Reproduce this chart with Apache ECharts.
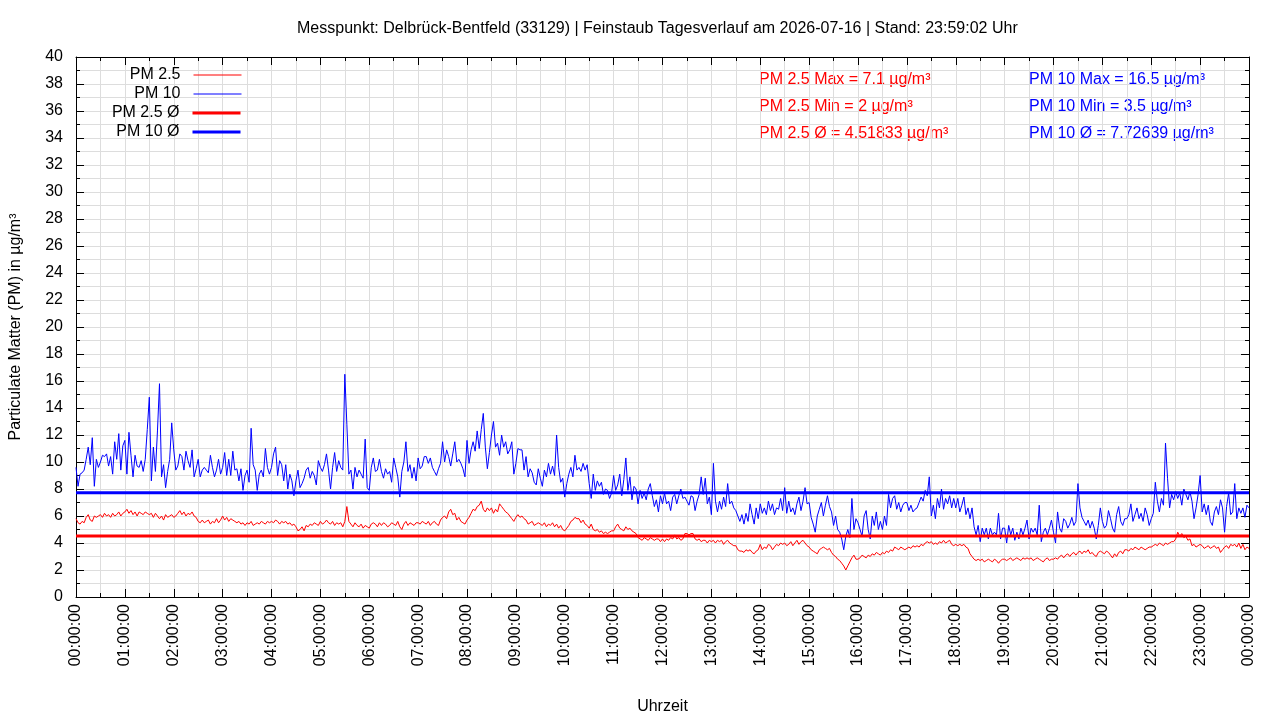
<!DOCTYPE html>
<html>
<head>
<meta charset="utf-8">
<script src="https://cdn.jsdelivr.net/npm/echarts@6/dist/echarts.min.js"></script>
<style>
html, body { margin: 0; padding: 0; background: #fff; }
#chart { width: 1280px; height: 720px; }
</style>
</head>
<body>
<div id="chart"></div>
<script>
// Messwerte alle 2,5 Minuten, 00:00 bis 24:00 (eine Zeile = 30 Minuten)
var STEP = 2.5;

var pm25 = [
  5.8, 5.5, 5.4, 5.6, 5.5, 5.9, 6.1, 5.7, 5.6, 6.0, 5.9, 6.0,   // 00:00
  6.1, 5.9, 6.2, 6.0, 6.1, 5.9, 6.2, 6.0, 6.1, 6.3, 6.0, 6.2,
  6.3, 6.5, 6.2, 6.4, 6.1, 6.3, 6.0, 6.3, 6.2, 6.1, 6.3, 6.2,   // 01:00
  6.1, 6.2, 5.9, 6.2, 6.0, 5.8, 6.0, 5.7, 6.1, 5.9, 6.0, 6.1,
  5.9, 6.0, 6.2, 6.4, 6.1, 6.3, 6.0, 6.2, 6.1, 6.3, 6.0, 5.9,   // 02:00
  5.6, 5.5, 5.7, 5.5, 5.6, 5.7, 5.4, 5.6, 5.5, 5.8, 5.5, 5.7,
  6.0, 5.7, 5.9, 5.6, 5.8, 5.7, 5.6, 5.5, 5.6, 5.4, 5.5, 5.3,   // 03:00
  5.5, 5.4, 5.6, 5.3, 5.4, 5.5, 5.4, 5.6, 5.5, 5.4, 5.6, 5.5,
  5.6, 5.5, 5.7, 5.6, 5.4, 5.6, 5.5, 5.6, 5.4, 5.5, 5.3, 5.4,   // 04:00
  5.2, 4.9, 5.0, 5.2, 4.9, 5.3, 5.2, 5.4, 5.3, 5.5, 5.4, 5.3,
  5.6, 5.4, 5.5, 5.7, 5.5, 5.4, 5.6, 5.3, 5.5, 5.4, 5.5, 5.2,   // 05:00
  5.6, 6.7, 5.6, 5.4, 5.2, 5.5, 5.3, 5.2, 5.4, 5.1, 5.3, 5.2,
  5.1, 5.4, 5.5, 5.4, 5.2, 5.5, 5.3, 5.5, 5.4, 5.2, 5.3, 5.5,   // 06:00
  5.4, 5.3, 5.6, 5.2, 5.0, 5.4, 5.6, 5.3, 5.5, 5.4, 5.3, 5.5,
  5.5, 5.4, 5.6, 5.5, 5.4, 5.6, 5.3, 5.5, 5.6, 5.4, 5.3, 5.7,   // 07:00
  5.9, 6.0, 5.8, 6.3, 6.5, 6.1, 6.2, 5.7, 5.9, 5.6, 5.5, 5.4,
  5.7, 5.9, 6.2, 6.5, 6.4, 6.7, 6.8, 7.1, 6.5, 6.3, 6.6, 6.4,   // 08:00
  6.6, 6.2, 6.5, 6.3, 6.9, 6.7, 6.5, 6.3, 6.2, 6.0, 5.8, 5.6,
  5.9, 6.1, 5.9, 6.0, 5.8, 5.7, 5.4, 5.5, 5.6, 5.3, 5.4, 5.5,   // 09:00
  5.4, 5.3, 5.5, 5.2, 5.4, 5.3, 5.5, 5.2, 5.4, 5.1, 5.3, 5.0,
  4.9, 5.1, 5.3, 5.6, 5.7, 5.9, 5.8, 5.8, 5.5, 5.7, 5.4, 5.3,   // 10:00
  5.1, 5.4, 5.0, 4.9, 5.0, 4.8, 4.9, 4.7, 4.8, 4.7, 4.8, 4.9,
  4.9, 5.2, 5.4, 5.1, 5.0, 4.9, 5.2, 5.0, 5.1, 4.9, 4.8, 4.7,   // 11:00
  4.4, 4.3, 4.2, 4.4, 4.3, 4.2, 4.4, 4.3, 4.2, 4.3, 4.3, 4.1,
  4.3, 4.1, 4.3, 4.2, 4.4, 4.3, 4.6, 4.3, 4.4, 4.2, 4.3, 4.7,   // 12:00
  4.7, 4.6, 4.7, 4.7, 4.3, 4.2, 4.3, 4.1, 4.2, 4.2, 4.0, 4.2,
  4.1, 4.2, 4.0, 4.2, 4.1, 4.2, 3.9, 4.1, 4.2, 4.0, 3.9, 3.8,   // 13:00
  3.8, 3.5, 3.4, 3.4, 3.3, 3.5, 3.4, 3.5, 3.3, 3.2, 3.4, 3.5,
  3.9, 3.5, 3.7, 3.6, 3.9, 3.8, 3.5, 3.7, 3.9, 3.8, 4.0, 3.9,   // 14:00
  4.0, 3.8, 3.9, 4.1, 3.8, 4.0, 4.2, 3.9, 4.1, 4.2, 4.0, 3.8,
  3.7, 3.5, 3.4, 3.3, 3.2, 3.5, 3.6, 3.7, 3.6, 3.5, 3.6, 3.3,   // 15:00
  3.1, 3.0, 2.8, 2.7, 2.5, 2.3, 2.0, 2.3, 2.6, 2.9, 3.1, 2.8,
  2.8, 2.9, 3.1, 3.0, 2.9, 3.1, 3.0, 3.2, 3.1, 3.3, 3.2, 3.1,   // 16:00
  3.3, 3.2, 3.4, 3.3, 3.5, 3.4, 3.7, 3.6, 3.5, 3.7, 3.6, 3.5,
  3.6, 3.7, 3.6, 3.8, 3.7, 3.8, 3.7, 3.9, 3.8, 4.0, 4.1, 4.0,   // 17:00
  4.1, 3.9, 4.0, 3.9, 4.1, 4.0, 4.2, 4.0, 4.1, 4.2, 3.9, 3.8,
  3.9, 3.8, 3.9, 3.8, 3.9, 3.7, 3.6, 3.2, 3.0, 2.8, 2.7, 2.8,   // 18:00
  2.7, 2.8, 2.6, 2.7, 2.8, 2.7, 2.6, 2.8, 2.7, 2.5, 2.7, 2.8,
  2.8, 2.7, 2.8, 2.9, 2.7, 2.8, 2.9, 2.8, 2.7, 2.9, 2.8, 2.9,   // 19:00
  2.8, 2.9, 2.7, 2.8, 2.9, 2.8, 2.7, 2.6, 2.8, 2.9, 2.7, 2.8,
  2.8, 2.9, 2.8, 3.0, 3.1, 2.9, 3.1, 3.2, 3.0, 3.2, 3.3, 3.1,   // 20:00
  3.3, 3.4, 3.2, 3.4, 3.3, 3.5, 3.2, 3.3, 3.1, 3.0, 3.3, 3.4,
  3.3, 3.2, 3.4, 3.3, 3.1, 2.9, 3.2, 3.0, 3.3, 3.4, 3.2, 3.5,   // 21:00
  3.5, 3.4, 3.6, 3.5, 3.7, 3.6, 3.5, 3.7, 3.6, 3.5, 3.6, 3.7,
  3.7, 3.8, 3.9, 3.8, 4.0, 3.9, 3.8, 4.0, 3.9, 4.0, 4.1, 4.1,   // 22:00
  4.3, 4.8, 4.5, 4.7, 4.4, 4.5, 4.2, 4.3, 3.8, 3.9, 3.7, 3.8,
  3.9, 3.8, 3.6, 3.7, 3.8, 3.6, 3.7, 3.8, 3.6, 3.7, 3.3, 3.5,   // 23:00
  3.7, 3.8, 3.6, 3.9, 3.8, 3.9, 3.7, 4.0, 3.6, 3.9, 3.5, 3.7,
  3.6
];

var pm10 = [
  9.6, 8.2, 9.1, 9.2, 9.4, 10.2, 11.1, 9.8, 11.8, 8.2, 10.2, 9.6,      // 00:00
  10.0, 10.5, 10.4, 10.6, 9.7, 10.4, 9.1, 11.5, 10.2, 12.1, 9.4, 11.2,
  11.6, 9.1, 12.2, 10.5, 8.9, 10.5, 9.7, 9.6, 10.1, 9.3, 10.2, 12.4,   // 01:00
  14.8, 8.6, 11.1, 9.3, 12.3, 15.8, 8.9, 9.8, 8.1, 9.3, 10.2, 12.9,
  10.9, 9.4, 9.7, 10.6, 10.4, 9.4, 10.8, 10.1, 9.6, 10.9, 8.9, 9.5,    // 02:00
  10.2, 8.9, 9.4, 9.6, 9.4, 9.2, 10.5, 9.6, 8.9, 9.4, 10.2, 9.1,
  9.6, 10.7, 9.0, 10.2, 9.0, 10.8, 9.4, 9.5, 8.6, 9.5, 7.9, 9.0,      // 03:00
  9.4, 8.5, 12.5, 9.8, 9.4, 7.9, 9.1, 9.4, 8.9, 11.0, 9.6, 9.1,
  9.6, 10.6, 11.1, 9.0, 10.1, 9.8, 8.6, 9.8, 8.0, 9.1, 8.6, 7.5,      // 04:00
  8.6, 9.4, 8.1, 8.4, 8.8, 9.4, 9.6, 8.8, 9.3, 9.0, 8.3, 10.1,
  9.6, 9.3, 9.8, 10.6, 9.4, 8.0, 9.6, 10.7, 9.3, 10.1, 9.6, 9.4,      // 05:00
  16.5, 12.8, 9.1, 9.4, 8.0, 9.6, 8.9, 9.4, 9.1, 8.8, 11.7, 8.1,
  7.9, 9.6, 10.3, 9.3, 9.4, 10.2, 9.3, 8.8, 9.5, 9.1, 9.3, 8.5,       // 06:00
  10.3, 9.6, 8.9, 7.4, 9.3, 10.0, 11.5, 9.3, 9.8, 8.8, 9.6, 8.6,
  10.3, 9.5, 9.7, 10.4, 10.4, 9.9, 10.3, 9.6, 9.3, 9.0, 9.5, 9.9,     // 07:00
  11.5, 10.0, 10.9, 10.4, 9.7, 10.6, 11.5, 10.0, 10.2, 9.9, 9.5, 8.9,
  11.6, 9.9, 10.9, 11.5, 10.8, 12.3, 11.0, 12.4, 13.6, 11.1, 9.5, 10.7, // 08:00
  12.0, 13.0, 11.1, 11.4, 10.5, 12.0, 11.1, 11.5, 10.6, 10.9, 11.5, 9.1,
  9.9, 11.0, 10.9, 10.9, 9.4, 10.4, 8.9, 9.5, 9.2, 8.5, 8.3, 9.5,     // 09:00
  8.8, 8.2, 9.4, 8.9, 9.9, 9.1, 9.7, 9.0, 12.0, 9.6, 8.5, 8.8,
  7.4, 8.4, 9.1, 9.6, 8.9, 10.5, 9.4, 9.6, 9.3, 9.9, 9.4, 9.8,        // 10:00
  8.4, 7.3, 9.1, 7.9, 8.6, 8.2, 8.5, 7.6, 8.0, 7.9, 7.3, 7.7,
  9.0, 7.9, 8.3, 9.1, 7.5, 8.7, 10.3, 7.9, 8.9, 7.2, 8.2, 8.0,        // 11:00
  6.9, 7.9, 7.3, 7.7, 7.2, 8.0, 8.4, 7.5, 6.7, 7.2, 6.3, 7.5,
  6.9, 7.7, 6.9, 7.1, 6.4, 7.4, 7.6, 6.9, 7.5, 8.0, 7.3, 7.4,         // 12:00
  7.1, 6.8, 7.5, 7.4, 6.4, 7.1, 7.6, 8.9, 7.6, 8.8, 6.9, 7.4,
  6.1, 9.9, 7.1, 6.3, 7.1, 6.5, 7.4, 6.7, 8.4, 6.9, 7.1, 6.6,         // 13:00
  6.4, 6.0, 5.6, 6.1, 5.4, 6.2, 5.6, 6.9, 6.1, 5.4, 6.6, 5.8,
  6.9, 6.2, 6.6, 6.1, 7.1, 6.4, 6.9, 6.1, 6.6, 6.5, 7.3, 6.4,         // 14:00
  8.1, 6.2, 7.1, 6.3, 6.6, 6.1, 6.9, 7.4, 6.4, 7.1, 8.1, 6.9,
  7.0, 5.9, 5.4, 4.8, 6.0, 6.5, 7.0, 6.0, 6.8, 7.5, 6.7, 6.3,         // 15:00
  5.3, 6.0, 5.0, 4.8, 4.3, 3.5, 4.5, 5.0, 4.4, 7.3, 5.0, 5.8,
  5.5, 5.0, 4.5, 6.0, 6.4, 5.0, 4.3, 6.0, 5.3, 6.3, 5.0, 5.6,         // 16:00
  5.0, 6.0, 5.3, 7.6, 6.6, 7.3, 7.5, 6.5, 7.0, 6.3, 6.8, 7.0,
  7.0, 6.4, 6.8, 6.3, 6.5, 6.6, 7.0, 7.4, 7.1, 7.9, 7.5, 8.9,         // 17:00
  6.0, 6.8, 5.8, 7.3, 6.6, 8.0, 6.5, 7.3, 6.9, 7.5, 6.6, 7.3,
  6.6, 7.3, 6.3, 6.8, 7.4, 6.1, 6.6, 5.8, 6.6, 5.2, 4.6, 5.3,         // 18:00
  4.1, 5.1, 4.6, 5.1, 4.3, 5.1, 4.6, 4.8, 4.6, 6.2, 4.3, 5.1,
  5.1, 4.0, 5.3, 4.6, 5.1, 4.2, 4.8, 4.3, 5.1, 4.6, 5.1, 5.7,         // 19:00
  4.3, 5.1, 4.8, 5.1, 4.6, 6.8, 4.1, 4.8, 5.1, 4.6, 5.1, 5.7,
  4.8, 4.0, 6.3, 5.1, 4.8, 5.8, 5.6, 5.1, 5.4, 5.9, 5.3, 5.6,         // 20:00
  8.4, 6.6, 5.9, 5.6, 5.3, 5.7, 5.1, 5.6, 5.1, 4.3, 5.3, 6.6,
  5.6, 5.1, 5.3, 6.4, 5.8, 5.1, 4.8, 6.1, 6.7, 5.6, 5.3, 5.8,         // 21:00
  5.8, 6.1, 6.9, 5.6, 6.1, 6.6, 5.8, 6.2, 5.6, 6.6, 6.1, 5.3,
  5.8, 6.2, 8.5, 7.1, 6.3, 7.3, 6.8, 11.4, 8.8, 6.6, 7.6, 7.2,        // 22:00
  7.8, 7.3, 7.7, 6.8, 8.0, 7.6, 7.2, 7.8, 7.1, 5.8, 6.6, 7.6,
  9.0, 6.3, 6.9, 6.1, 6.8, 5.6, 5.3, 6.3, 6.7, 6.1, 7.2, 6.6,         // 23:00
  4.8, 6.7, 7.7, 6.1, 6.3, 8.4, 5.8, 6.6, 6.2, 6.6, 5.9, 6.8,
  6.6
];

var pm25Max = 7.1, pm25Min = 2, pm25Avg = 4.51833;
var pm10Max = 16.5, pm10Min = 3.5, pm10Avg = 7.72639;

var FONT = '"Liberation Sans", Arial, sans-serif';

function toPairs(values) {
  var out = [];
  for (var i = 0; i < values.length; i++) out.push([i * STEP, values[i]]);
  return out;
}

function hourLabel(v) {
  var h = Math.round(v / 60) % 24;
  return (h < 10 ? '0' : '') + h + ':00:00';
}

// gnuplot-Legende: Text rechtsbündig, Linienmuster rechts daneben
function keyEntry(name, top, width) {
  return {
    data: [name],
    right: 1280 - 242,
    top: top,
    orient: 'vertical',
    align: 'right',
    itemWidth: 48,
    itemHeight: 13,
    padding: 0,
    selectedMode: false,
    itemStyle: { opacity: 0, borderWidth: 0 },
    lineStyle: { width: width },
    textStyle: { fontSize: 16, color: '#000', fontFamily: FONT, padding: [0, 8, 0, 0] }
  };
}

function statText(x, y, text, color) {
  return { type: 'text', x: x, y: y, style: { text: text, fill: color, font: '16px ' + FONT, verticalAlign: 'middle' } };
}

var gridLine = { color: '#dddddd', width: 1 };
var tickStyle = { color: '#000', width: 1 };

var myChart = echarts.init(document.getElementById('chart'));

var option = {
  animation: false,
  backgroundColor: '#fff',
  title: {
    text: 'Messpunkt: Delbrück-Bentfeld (33129) | Feinstaub Tagesverlauf am 2026-07-16 | Stand: 23:59:02 Uhr',
    left: 297,
    top: 21,
    padding: 0,
    textStyle: { fontSize: 16, fontWeight: 'normal', color: '#000', fontFamily: FONT }
  },
  legend: [
    keyEntry('PM 2.5', 67, 1),
    keyEntry('PM 10', 86, 1),
    keyEntry('PM 2.5 Ø', 105, 3),
    keyEntry('PM 10 Ø', 124, 3)
  ],
  grid: { left: 75, right: 31, top: 57, bottom: 123, containLabel: false },
  xAxis: [{
    type: 'value',
    min: 0,
    max: 1440,
    interval: 60,
    name: 'Uhrzeit',
    nameLocation: 'middle',
    nameGap: 102,
    nameTextStyle: { fontSize: 16, color: '#000', fontFamily: FONT },
    axisLine: { show: true, onZero: false, lineStyle: tickStyle },
    axisTick: { inside: true, length: 8, lineStyle: tickStyle },
    minorTick: { show: true, splitNumber: 2, length: 4, lineStyle: tickStyle },
    splitLine: { show: true, lineStyle: gridLine },
    minorSplitLine: { show: true, lineStyle: gridLine },
    axisLabel: {
      rotate: 90, margin: 7, fontSize: 16, color: '#000', fontFamily: FONT,
      showMinLabel: true, showMaxLabel: true,
      formatter: hourLabel
    }
  }, {
    type: 'value',
    position: 'top',
    min: 0,
    max: 1440,
    interval: 60,
    axisLine: { show: true, onZero: false, lineStyle: tickStyle },
    axisTick: { inside: true, length: 8, lineStyle: tickStyle },
    minorTick: { show: true, splitNumber: 2, length: 4, lineStyle: tickStyle },
    splitLine: { show: false },
    axisLabel: { show: false }
  }],
  yAxis: [{
    type: 'value',
    min: 0,
    max: 40,
    interval: 2,
    name: 'Particulate Matter (PM) in µg/m³',
    nameLocation: 'middle',
    nameRotate: 90,
    nameGap: 52,
    nameTextStyle: { fontSize: 16, color: '#000', fontFamily: FONT },
    axisLine: { show: true, onZero: false, lineStyle: tickStyle },
    axisTick: { inside: true, length: 8, lineStyle: tickStyle },
    minorTick: { show: true, splitNumber: 2, length: 4, lineStyle: tickStyle },
    splitLine: { show: true, lineStyle: gridLine },
    minorSplitLine: { show: true, lineStyle: gridLine },
    axisLabel: { margin: 13, fontSize: 16, color: '#000', fontFamily: FONT }
  }, {
    type: 'value',
    position: 'right',
    min: 0,
    max: 40,
    interval: 2,
    axisLine: { show: true, onZero: false, lineStyle: tickStyle },
    axisTick: { inside: true, length: 8, lineStyle: tickStyle },
    minorTick: { show: true, splitNumber: 2, length: 4, lineStyle: tickStyle },
    splitLine: { show: false },
    axisLabel: { show: false }
  }],
  graphic: [
    statText(759, 80, 'PM 2.5 Max = ' + pm25Max + ' µg/m³', '#ff0000'),
    statText(759, 107, 'PM 2.5 Min = ' + pm25Min + ' µg/m³', '#ff0000'),
    statText(759, 134, 'PM 2.5 Ø = ' + pm25Avg + ' µg/m³', '#ff0000'),
    statText(1029, 80, 'PM 10 Max = ' + pm10Max + ' µg/m³', '#0000ff'),
    statText(1029, 107, 'PM 10 Min = ' + pm10Min + ' µg/m³', '#0000ff'),
    statText(1029, 134, 'PM 10 Ø = ' + pm10Avg + ' µg/m³', '#0000ff')
  ],
  series: [{
    name: 'PM 2.5',
    type: 'line',
    color: '#ff0000',
    symbol: 'none',
    lineStyle: { width: 1 },
    data: toPairs(pm25)
  }, {
    name: 'PM 10',
    type: 'line',
    color: '#0000ff',
    symbol: 'none',
    lineStyle: { width: 1 },
    data: toPairs(pm10)
  }, {
    name: 'PM 2.5 Ø',
    type: 'line',
    color: '#ff0000',
    symbol: 'none',
    lineStyle: { width: 3 },
    data: [[0, pm25Avg], [1440, pm25Avg]]
  }, {
    name: 'PM 10 Ø',
    type: 'line',
    color: '#0000ff',
    symbol: 'none',
    lineStyle: { width: 3 },
    data: [[0, pm10Avg], [1440, pm10Avg]]
  }]
};

myChart.setOption(option);
</script>
</body>
</html>
